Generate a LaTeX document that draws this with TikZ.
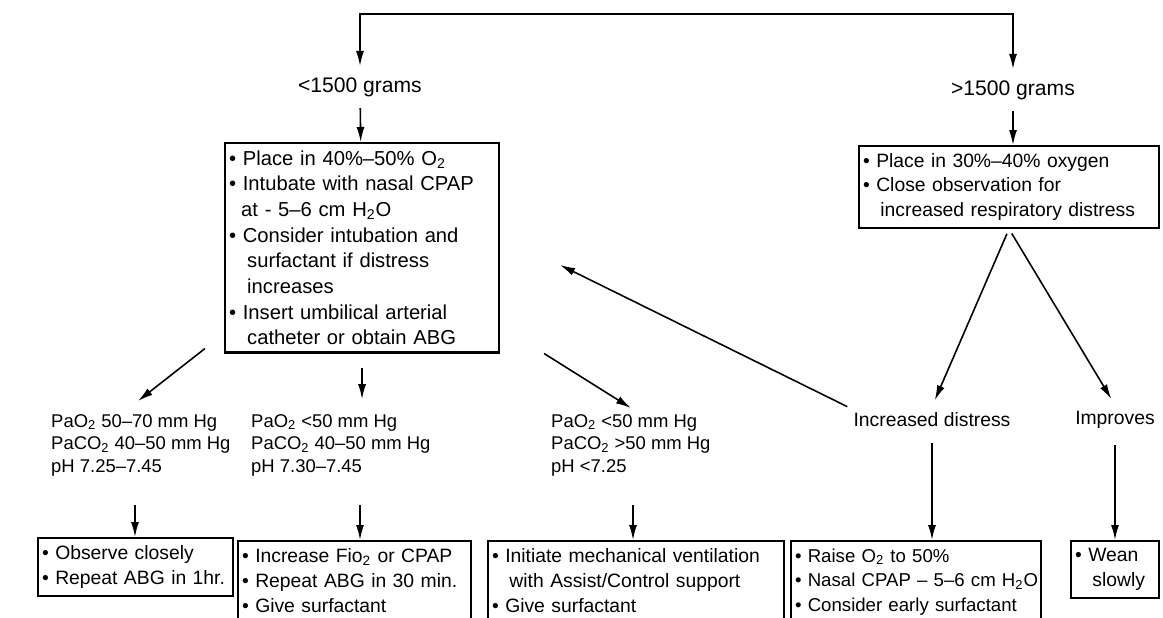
\documentclass[tikz,border=0pt]{standalone}
\usepackage{fontspec}
\setmainfont{Liberation Sans}
\usetikzlibrary{positioning,arrows.meta,calc}

\tikzset{
  box/.style={draw,line width=1.2pt,anchor=north west,align=left,inner xsep=0.08cm,inner ysep=0.15cm,font=\fontsize{11}{14.2}\selectfont},
  lab/.style={align=left,font=\fontsize{10.5}{13}\selectfont},
  arr/.style={-{Latex[length=3mm,width=1.6mm]},line width=0.9pt},
}
\newcommand{\blt}{\textbullet\ }
\newcommand{\contd}{\hspace*{0.9em}}

\begin{document}
\begin{tikzpicture}[x=0.02cm,y=-0.02cm]
\useasboundingbox (0,0) rectangle (1163,618);
\clip (0,0) rectangle (1163,618);
% weight split
\node[lab,font=\fontsize{12}{14}\selectfont] (lt) at (360,87) {<1500 grams};
\node[lab,font=\fontsize{12}{14}\selectfont] (gt) at (1013,90) {>1500 grams};
\coordinate (topL) at (360,14);
\coordinate (topR) at (1013,14);
\draw[{Latex[length=3mm,width=1.6mm]}-{Latex[length=3mm,width=1.6mm]},line width=0.9pt,shorten <=3pt,shorten >=3pt] (lt) -- (topL) -- (topR) -- (gt);

% first line boxes
\node[box,text width=5.32cm,font=\fontsize{11.5}{14.6}\selectfont] (lbox) at (224,142) {\blt Place in 40\%–50\% O\textsubscript{2}\\
\blt Intubate with nasal CPAP\\
\hspace*{0.6em}at - 5–6 cm H\textsubscript{2}O\\
\blt Consider intubation and\\
\contd surfactant if distress\\
\contd increases\\
\blt Insert umbilical arterial\\
\contd catheter or obtain ABG};
\node[box,text width=5.84cm,font=\fontsize{11}{13.9}\selectfont] (rbox) at (858,145) {\blt Place in 30\%–40\% oxygen\\
\blt Close observation for\\
\contd increased respiratory distress};
\draw[arr,shorten <=3pt] (lt) -- (lbox);
\draw[arr,shorten <=3pt] (gt) -- (gt |- rbox.north);

% blood gas results
\node[lab,anchor=north west] (t1) at (45,408) {PaO\textsubscript{2} 50–70 mm Hg\\PaCO\textsubscript{2} 40–50 mm Hg\\pH 7.25–7.45};
\node[lab,anchor=north west] (t2) at (245,408) {PaO\textsubscript{2} <50 mm Hg\\PaCO\textsubscript{2} 40–50 mm Hg\\pH 7.30–7.45};
\node[lab,anchor=north west] (t3) at (545,408) {PaO\textsubscript{2} <50 mm Hg\\PaCO\textsubscript{2} >50 mm Hg\\pH <7.25};
\node[lab,font=\fontsize{11}{13}\selectfont] (incr) at (932,420) {Increased distress};
\node[lab,font=\fontsize{11}{13}\selectfont] (impr) at (1115,420) {Improves};
\coordinate (back) at (560,265);

\draw[arr] ($(lbox.south west)+(-19,-5)$) -- (138,401);
\draw[arr,shorten <=8pt,shorten >=5pt] (lbox.south) -- (lbox.south |- t2.north);
\draw[arr] ($(lbox.south east)+(44,0)$) -- (t3.north);
\draw[arr,shorten <=3pt,shorten >=4pt] (rbox.south) -- (incr.north);
\draw[arr,shorten <=3pt,shorten >=4pt] (rbox.south) -- (impr.north);
\draw[arr] (incr.north west) -- (back);

% actions
\node[box,text width=3.74cm] (b1) at (37,537) {\blt Observe closely\\\blt Repeat ABG in 1hr.};
\node[box,text width=4.5cm] (b2) at (237,540) {\blt Increase Fio\textsubscript{2} or CPAP\\\blt Repeat ABG in 30 min.\\\blt Give surfactant};
\node[box,text width=5.76cm] (b3) at (487,540) {\blt Initiate mechanical ventilation\\\contd with Assist/Control support\\\blt Give surfactant};
\node[box,text width=4.84cm,font=\fontsize{10.6}{14.2}\selectfont] (b4) at (790,540) {\blt Raise O\textsubscript{2} to 50\%\\\mbox{\blt Nasal CPAP – 5–6 cm H\textsubscript{2}O}\\\blt Consider early surfactant};
\node[box,text width=1.6cm] (b5) at (1070,540) {\blt Wean\\\contd slowly};

\coordinate (m1) at (135,505);
\coordinate (m2) at (360,505);
\coordinate (m3) at (633,505);
\draw[arr] (m1) -- (m1 |- b1.north);
\draw[arr] (m2) -- (m2 |- b2.north);
\draw[arr] (m3) -- (m3 |- b3.north);
\draw[arr,shorten <=0.2cm] (incr.south) -- (incr.south |- b4.north);
\draw[arr,shorten <=0.2cm] (impr.south) -- (impr.south |- b5.north);
\end{tikzpicture}
\end{document}
